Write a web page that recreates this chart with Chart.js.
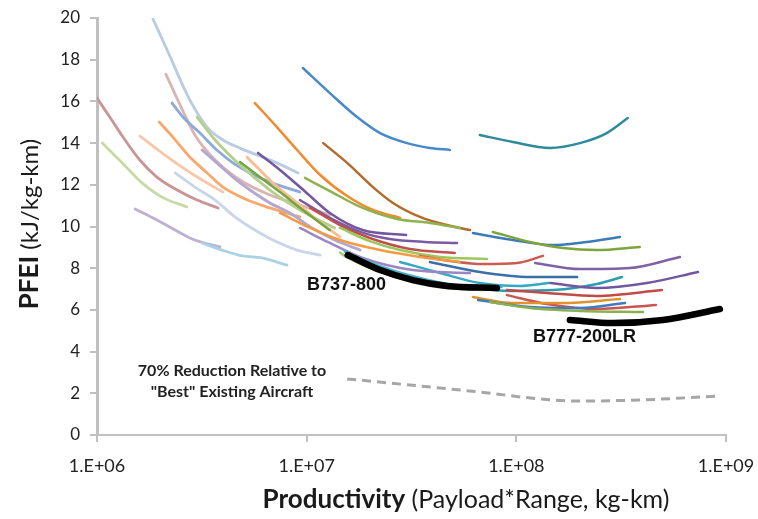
<!DOCTYPE html>
<html><head><meta charset="utf-8">
<script src="https://cdn.jsdelivr.net/npm/chart.js@4/dist/chart.umd.min.js"></script>
<style>html,body{margin:0;padding:0;background:#fff}#wrap{width:758px;height:519px}</style>
</head><body><div id="wrap"><canvas id="c" width="758" height="519"></canvas></div>
<script>
// ---- tick labels ----
const xTickValues = [1e6, 1e7, 1e8, 1e9];
const xTickLabels = ['1.E+06', '1.E+07', '1.E+08', '1.E+09'];
const yTickValues = [0, 2, 4, 6, 8, 10, 12, 14, 16, 18, 20];

// ---- series (productivity kg-km, PFEI kJ/kg-km) ----
const s01x = [1.85e6, 2.16e6, 2.77e6, 3.35e6, 3.99e6, 4.81e6, 5.79e6, 7.21e6, 9.09e6];
const s01y = [19.95, 18.47, 16.07, 14.77, 14.15, 13.76, 13.43, 13.05, 12.57];
const s02x = [2.13e6, 2.49e6, 2.93e6, 3.66e6, 4.81e6, 6.68e6, 9.29e6, 1.29e7];
const s02y = [17.31, 15.83, 14.39, 13.19, 12.23, 11.51, 11.03, 10.55];
const s03x = [1.0e6, 1.15e6, 1.33e6, 1.6e6, 1.93e6, 2.41e6, 3.0e6, 3.78e6];
const s03y = [16.16, 15.25, 14.29, 13.19, 12.37, 11.75, 11.27, 10.89];
const s04x = [1.06e6, 1.32e6, 1.64e6, 2.04e6, 2.68e6];
const s04y = [14.0, 13.05, 12.09, 11.41, 10.94];
const s05x = [1.6e6, 2.04e6, 2.54e6, 3.17e6, 3.99e6];
const s05y = [14.34, 13.53, 12.85, 12.23, 11.65];
const s06x = [1.98e6, 2.3e6, 2.77e6, 3.35e6, 3.99e6, 5.09e6, 6.68e6, 9.29e6];
const s06y = [15.01, 14.29, 13.33, 12.57, 11.89, 11.32, 10.89, 10.46];
const s07x = [2.28e6, 2.57e6, 3.1e6, 3.73e6, 4.45e6, 5.37e6, 6.68e6, 9.29e6];
const s07y = [15.92, 15.25, 14.48, 13.67, 13.05, 12.57, 12.13, 11.65];
const s08x = [3.0e6, 3.66e6, 4.81e6, 6.68e6, 9.29e6, 1.36e7];
const s08y = [15.25, 14.15, 12.95, 11.75, 10.79, 9.93];
const s09x = [3.17e6, 3.73e6, 4.45e6, 5.37e6, 6.68e6, 8.32e6, 1.04e7, 1.36e7, 1.8e7];
const s09y = [13.67, 13.05, 12.37, 11.75, 11.13, 10.65, 9.98, 9.35, 8.87];
const s10x = [2.36e6, 2.93e6, 3.66e6, 4.55e6, 5.66e6, 7.06e6, 9.0e6, 1.16e7];
const s10y = [12.57, 11.89, 11.27, 10.46, 9.83, 9.3, 8.87, 8.63];
const s11x = [1.52e6, 1.89e6, 2.36e6, 2.93e6, 3.86e6];
const s11y = [10.84, 10.36, 9.83, 9.35, 9.02];
const s12x = [3.17e6, 3.94e6, 4.91e6, 6.12e6, 8.05e6];
const s12y = [9.21, 8.87, 8.59, 8.49, 8.15];
const s13x = [5.19e6, 5.79e6, 6.9e6, 9.0e6, 1.12e7, 1.44e7];
const s13y = [13.33, 12.85, 12.09, 11.13, 10.31, 9.5];
const s14x = [4.81e6, 5.98e6, 7.46e6, 9.59e6, 1.29e7];
const s14y = [13.09, 12.37, 11.65, 10.79, 9.83];
const s15x = [5.86e6, 7.46e6, 1.0e7, 1.29e7, 1.85e7, 2.98e7];
const s15y = [13.53, 12.71, 11.61, 10.65, 9.83, 9.59];
const s16x = [5.66e6, 7.21e6, 9.0e6, 1.16e7, 1.56e7, 2.07e7, 2.79e7];
const s16y = [15.92, 14.77, 13.67, 12.47, 11.46, 10.79, 10.41];
const s17x = [1.2e7, 1.56e7, 2.07e7, 2.58e7, 3.47e7, 4.67e7, 6.01e7];
const s17y = [14.0, 13.05, 11.89, 11.13, 10.46, 10.07, 9.83];
const s18x = [9.59e6, 1.29e7, 1.74e7, 2.24e7, 3.01e7, 3.87e7, 4.82e7];
const s18y = [17.6, 16.4, 15.25, 14.48, 14.0, 13.77, 13.67];
const s19x = [6.7e7, 9.63e7, 1.45e8, 2.01e8, 2.7e8, 3.4e8];
const s19y = [14.39, 14.05, 13.77, 14.0, 14.48, 15.2];
const s20x = [9.82e6, 1.29e7, 1.85e7, 2.7e7, 3.87e7, 5.38e7];
const s20y = [12.33, 11.7, 10.89, 10.36, 10.17, 9.93];
const s21x = [6.21e7, 9.63e7, 1.5e8, 2.17e8, 3.12e8];
const s21y = [9.69, 9.35, 9.11, 9.26, 9.5];
const s22x = [7.73e7, 1.16e8, 1.67e8, 2.42e8, 3.88e8];
const s22y = [9.74, 9.26, 8.97, 8.87, 9.02];
const s23x = [9.29e6, 1.29e7, 1.8e7, 2.49e7, 3.66e7, 5.21e7];
const s23y = [11.27, 10.41, 9.74, 9.4, 9.26, 9.21];
const s24x = [1.04e7, 1.44e7, 2.0e7, 3.11e7, 5.09e7];
const s24y = [10.89, 10.07, 9.45, 8.92, 8.73];
const s25x = [1.44e7, 2.0e7, 2.79e7, 4.33e7, 7.24e7];
const s25y = [9.93, 9.3, 8.87, 8.54, 8.44];
const s26x = [3.47e7, 4.82e7, 6.93e7, 1.01e8, 1.34e8];
const s26y = [8.59, 8.35, 8.2, 8.25, 8.59];
const s27x = [7.46e6, 1.04e7, 1.44e7, 2.24e7, 3.47e7, 5.38e7];
const s27y = [10.65, 9.93, 9.35, 8.87, 8.54, 8.3];
const s28x = [1.23e8, 2.01e8, 3.48e8, 6.03e8];
const s28y = [8.25, 7.96, 8.01, 8.54];
const s29x = [3.87e7, 6.7e7, 1.16e8, 1.95e8];
const s29y = [8.3, 7.82, 7.58, 7.58];
const s30x = [2.79e7, 4.33e7, 6.7e7, 1.04e8, 1.42e8];
const s30y = [8.3, 7.77, 7.29, 7.15, 7.29];
const s31x = [5.38e7, 9.31e7, 1.5e8, 2.42e8, 3.19e8];
const s31y = [7.1, 6.91, 6.95, 7.24, 7.58];
const s32x = [1.45e8, 2.42e8, 4.2e8, 7.35e8];
const s32y = [7.29, 7.05, 7.29, 7.82];
const s33x = [9.02e7, 1.4e8, 2.42e8, 4.94e8];
const s33y = [6.95, 6.81, 6.67, 6.95];
const s34x = [9.02e7, 1.4e8, 2.42e8, 4.63e8];
const s34y = [6.71, 6.28, 6.04, 6.24];
const s35x = [6.21e7, 9.63e7, 1.67e8, 3.12e8];
const s35y = [6.62, 6.33, 6.33, 6.52];
const s36x = [6.57e7, 1.16e8, 2.01e8, 3.3e8];
const s36y = [6.47, 6.14, 6.09, 6.33];
const s37x = [7.48e7, 1.16e8, 2.01e8, 4.02e8];
const s37y = [6.38, 6.09, 5.95, 5.9];
const s38x = [9.29e6, 1.29e7, 1.85e7, 3.21e7, 6.01e7];
const s38y = [9.93, 9.21, 8.49, 7.91, 7.77];
const s39x = [1.44e7, 1.57e7, 2.24e7, 3.21e7, 4.67e7, 7.0e7];
const s39y = [8.75, 8.5, 7.82, 7.33, 7.05, 6.95];
const s40x = [1.52e7, 2.24e7, 3.4e7, 5.0e7, 8.5e7];
const s40y = [8.8, 8.1, 7.55, 7.2, 7.1];
const b737x = [1.57e7, 2.24e7, 3.21e7, 4.67e7, 8.08e7];
const b737y = [8.63, 7.91, 7.43, 7.15, 7.05];
const b777x = [1.8e8, 2.89e8, 5.0e8, 9.35e8];
const b777y = [5.52, 5.37, 5.52, 6.04];
const goalx = [1.56e7, 3.47e7, 6.7e7, 1.3e8, 2.01e8, 3.88e8, 9.35e8];
const goaly = [2.69, 2.35, 2.06, 1.73, 1.63, 1.68, 1.87];

const series = [
  [s01x, s01y, '#b9cce4', 2.8], [s02x, s02y, '#dab4b3', 2.8], [s03x, s03y, '#c99594', 2.8],
  [s04x, s04y, '#c6d9a6', 2.8], [s05x, s05y, '#f9c6a8', 2.8], [s06x, s06y, '#f7a86e', 2.8],
  [s07x, s07y, '#8eaad8', 2.8], [s08x, s08y, '#b4d08c', 2.8], [s09x, s09y, '#b3a6cf', 2.8],
  [s10x, s10y, '#c8d6ea', 2.8], [s11x, s11y, '#bcb1d3', 2.8], [s12x, s12y, '#a9d2e2', 2.8],
  [s13x, s13y, '#f9bd92', 2.8], [s14x, s14y, '#77a442', 2.5], [s15x, s15y, '#74579c', 2.5],
  [s16x, s16y, '#f08b2e', 2.5], [s17x, s17y, '#b36b2c', 2.5], [s18x, s18y, '#4a88c9', 2.5],
  [s19x, s19y, '#2f8b9b', 2.5], [s20x, s20y, '#8db24f', 2.5], [s21x, s21y, '#3d7ab8', 2.5],
  [s22x, s22y, '#7ea43e', 2.5], [s23x, s23y, '#7a5ba3', 2.5], [s24x, s24y, '#c0504d', 2.5],
  [s25x, s25y, '#9bc85a', 2.5], [s26x, s26y, '#cd5b50', 2.5], [s27x, s27y, '#f39a44', 2.5],
  [s28x, s28y, '#7f62a5', 2.5], [s29x, s29y, '#3b6fa8', 2.5], [s30x, s30y, '#36a9c2', 2.5],
  [s31x, s31y, '#2d9cb0', 2.5], [s32x, s32y, '#7356a0', 2.5], [s33x, s33y, '#c04a45', 2.5],
  [s34x, s34y, '#c95650', 2.5], [s35x, s35y, '#e0922e', 2.5], [s36x, s36y, '#3c7cc2', 2.5],
  [s37x, s37y, '#8cb04d', 2.5], [s38x, s38y, '#9c86c4', 2.5], [s39x, s39y, '#a8cf6a', 2.5],
  [s40x, s40y, '#4db3cc', 2.5]
];

const datasets = series.map(([xs, ys, col, w], i) => ({
  data: xs.map((x, j) => ({x, y: ys[j]})),
  borderColor: col, borderWidth: w, pointRadius: 0, cubicInterpolationMode: 'monotone',
  borderCapStyle: 'round', fill: false, order: 200 - i
}));
datasets.push({data: b737x.map((x, i) => ({x, y: b737y[i]})), borderColor: '#000', borderWidth: 6.5,
  pointRadius: 0, cubicInterpolationMode: 'monotone', borderCapStyle: 'round', fill: false, order: 0});
datasets.push({data: b777x.map((x, i) => ({x, y: b777y[i]})), borderColor: '#000', borderWidth: 6.5,
  pointRadius: 0, cubicInterpolationMode: 'monotone', borderCapStyle: 'round', fill: false, order: 0});
datasets.push({data: goalx.map((x, i) => ({x, y: goaly[i]})), borderColor: '#a6a6a6', borderWidth: 3,
  borderDash: [9, 6], pointRadius: 0, cubicInterpolationMode: 'monotone', fill: false, order: 0});

const textPlugin = {
  id: 'texts',
  afterDraw(chart) {
    const ctx = chart.ctx;
    ctx.save();
    ctx.fillStyle = '#1a1a1a';
    ctx.textBaseline = 'middle';
    // x title
    const b = 'bold 26px Lato', n = '25px Lato';
    const p1 = 'Productivity', p2 = ' (Payload*Range, kg-km)';
    ctx.font = b; const w1 = ctx.measureText(p1).width;
    ctx.font = n; const w2 = ctx.measureText(p2).width;
    let sx = 466 - (w1 + w2) / 2;
    ctx.textAlign = 'left';
    ctx.font = b; ctx.fillText(p1, sx, 500);
    ctx.font = n; ctx.fillText(p2, sx + w1, 500);
    // y title
    ctx.save();
    ctx.translate(30, 224);
    ctx.rotate(-Math.PI / 2);
    const q1 = 'PFEI', q2 = ' (kJ/kg-km)';
    ctx.font = 'bold 26px Lato'; const v1 = ctx.measureText(q1).width;
    ctx.font = '24px Lato'; const v2 = ctx.measureText(q2).width;
    let sy = -(v1 + v2) / 2;
    ctx.font = 'bold 26px Lato'; ctx.fillText(q1, sy, 0);
    ctx.font = '24px Lato'; ctx.fillText(q2, sy + v1, 0);
    ctx.restore();
    // annotations
    ctx.fillStyle = '#111';
    ctx.font = 'bold 18px "Liberation Sans"';
    ctx.textAlign = 'left';
    ctx.fillText('B737-800', 307, 285);
    ctx.fillText('B777-200LR', 533, 337);
    ctx.font = 'bold 16px Lato';
    ctx.textAlign = 'center';
    ctx.fillStyle = '#222';
    ctx.fillText('70% Reduction Relative to', 232, 371);
    ctx.fillText('"Best" Existing Aircraft', 232, 392);
    ctx.restore();
  }
};

new Chart(document.getElementById('c'), {
  type: 'line',
  data: {datasets},
  options: {
    responsive: false, animation: false,
    layout: {padding: {top: 18, right: 32, left: 0, bottom: 0}},
    plugins: {legend: {display: false}, tooltip: {enabled: false}},
    scales: {
      x: {
        type: 'logarithmic', min: 1e6, max: 1e9,
        afterBuildTicks: s => { s.ticks = xTickValues.map(v => ({value: v, major: true})); },
        afterFit: s => { s.height = 84; s.paddingLeft = 0; s.paddingRight = 0; },
        ticks: {
          autoSkip: false, maxRotation: 0, padding: 13,
          color: '#222', font: {family: 'Lato', size: 18},
          callback: (v) => { const i = xTickValues.indexOf(v); return i >= 0 ? xTickLabels[i] : ''; }
        },
        grid: {drawOnChartArea: false, drawTicks: true, tickLength: 7, color: '#c0c0c0', lineWidth: 2},
        border: {display: true, color: '#c0c0c0', width: 2}
      },
      y: {
        min: 0, max: 20,
        afterBuildTicks: s => { s.ticks = yTickValues.map(v => ({value: v})); },
        afterFit: s => { s.width = 97; s.paddingTop = 0; s.paddingBottom = 0; },
        ticks: {padding: 10, color: '#222', font: {family: 'Lato', size: 17}},
        grid: {drawOnChartArea: false, drawTicks: true, tickLength: 7, color: '#c0c0c0', lineWidth: 2},
        border: {display: true, color: '#c0c0c0', width: 3}
      }
    }
  },
  plugins: [textPlugin]
});
</script></body></html>
